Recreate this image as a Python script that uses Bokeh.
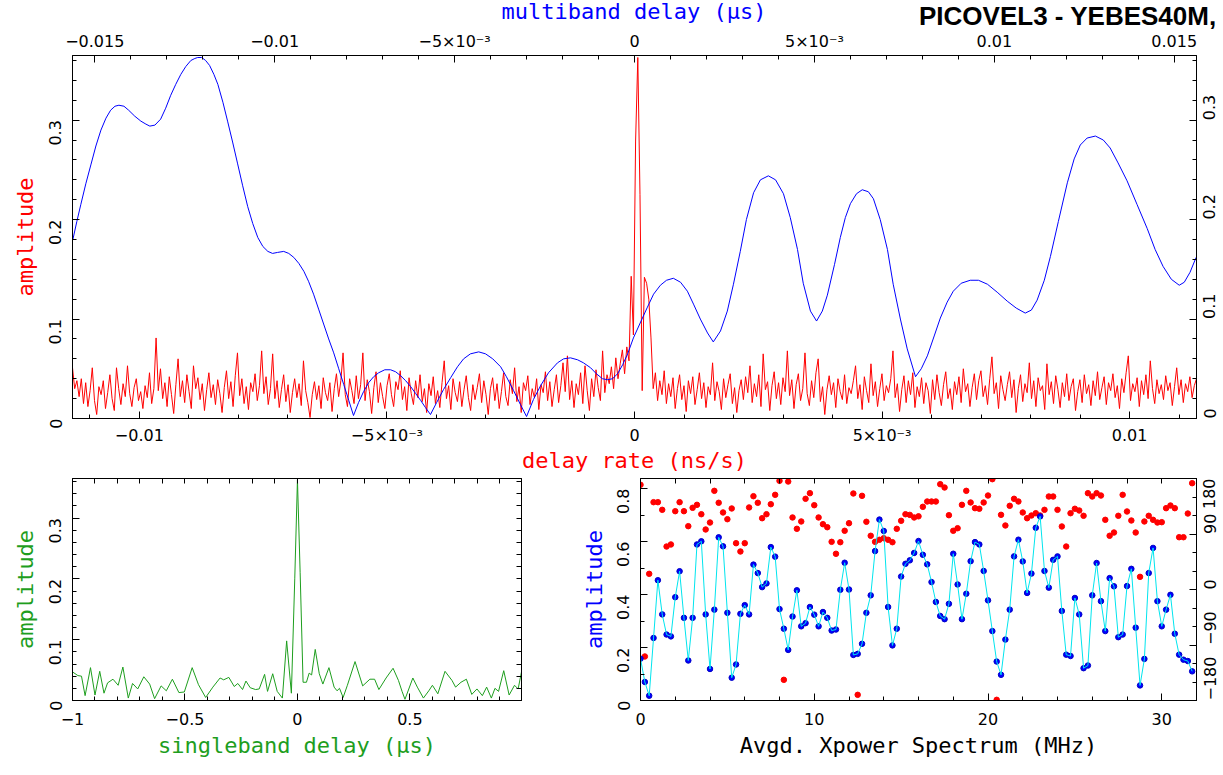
import math
import numpy as np
from bokeh.plotting import figure
from bokeh.layouts import column, row
from bokeh.models import (Range1d, LinearAxis, SingleIntervalTicker, FixedTicker,
                          CustomJSTickFormatter, Div)
from bokeh.embed import file_html
from bokeh.resources import INLINE

# ---------------- data ----------------
title_text = "PICOVEL3 - YEBES40M,"
mbd_title = "multiband delay (\u03bcs)"

# delay-rate spectrum (red), 512 samples over the bottom axis range (ns/s)
rate_min, rate_max = -0.01135, 0.01135
rate_amp = (
    [0.051, 0.030, 0.038, 0.022, 0.040, 0.015, 0.036, 0.012, 0.028, 0.051, 0.018, 0.004, 0.032, 0.024, 0.038, 0.010] +
    [0.026, 0.044, 0.020, 0.008, 0.051, 0.030, 0.014, 0.035, 0.022, 0.053, 0.025, 0.012, 0.031, 0.040, 0.018, 0.027] +
    [0.010, 0.033, 0.021, 0.046, 0.015, 0.030, 0.081, 0.028, 0.050, 0.020, 0.036, 0.012, 0.042, 0.024, 0.005, 0.034] +
    [0.060, 0.022, 0.038, 0.016, 0.044, 0.027, 0.010, 0.053, 0.030, 0.041, 0.019, 0.035, 0.008, 0.029, 0.046, 0.021] +
    [0.034, 0.014, 0.039, 0.025, 0.006, 0.031, 0.048, 0.020, 0.037, 0.012, 0.043, 0.066, 0.023, 0.040, 0.015, 0.032] +
    [0.009, 0.036, 0.027, 0.045, 0.018, 0.033, 0.068, 0.025, 0.042, 0.014, 0.030, 0.065, 0.020, 0.038, 0.011, 0.029] +
    [0.044, 0.017, 0.034, 0.006, 0.026, 0.040, 0.021, 0.035, 0.013, 0.058, 0.028, 0.016, 0.001, 0.024, 0.037, 0.019] +
    [0.033, 0.010, 0.041, 0.026, 0.018, 0.036, 0.007, 0.030, 0.045, 0.022, 0.038, 0.066, 0.024, 0.012, 0.040, 0.028] +
    [0.015, 0.043, 0.020, 0.034, 0.066, 0.018, 0.039, 0.027, 0.005, 0.031, 0.047, 0.016, 0.036, 0.022, 0.010, 0.033] +
    [0.045, 0.024, 0.012, 0.037, 0.029, 0.048, 0.019, 0.032, 0.008, 0.041, 0.025, 0.014, 0.038, 0.021, 0.044, 0.017] +
    [0.030, 0.006, 0.035, 0.023, 0.042, 0.015, 0.028, 0.011, 0.036, 0.058, 0.020, 0.033, 0.009, 0.040, 0.026, 0.017] +
    [0.037, 0.012, 0.029, 0.043, 0.021, 0.008, 0.034, 0.019, 0.031, 0.045, 0.016, 0.038, 0.024, 0.004, 0.030, 0.041] +
    [0.018, 0.035, 0.010, 0.027, 0.046, 0.022, 0.013, 0.039, 0.025, 0.051, 0.017, 0.032, 0.006, 0.036, 0.028, 0.043] +
    [0.014, 0.030, 0.021, 0.040, 0.009, 0.034, 0.026, 0.047, 0.018, 0.037, 0.012, 0.029, 0.044, 0.016, 0.033, 0.056] +
    [0.027, 0.063, 0.019, 0.038, 0.011, 0.035, 0.024, 0.046, 0.015, 0.053, 0.028, 0.008, 0.040, 0.022, 0.049, 0.031] +
    [0.018, 0.068, 0.026, 0.044, 0.035, 0.052, 0.030, 0.061, 0.040, 0.055, 0.069, 0.045, 0.072, 0.058, 0.143, 0.084] +
    [0.279, 0.363, 0.225, 0.028, 0.142, 0.136, 0.120, 0.081, 0.030, 0.046, 0.018, 0.038, 0.024, 0.048, 0.015, 0.035] +
    [0.022, 0.041, 0.010, 0.030, 0.044, 0.019, 0.033, 0.007, 0.038, 0.025, 0.042, 0.014, 0.029, 0.046, 0.020, 0.036] +
    [0.011, 0.032, 0.024, 0.056, 0.018, 0.037, 0.027, 0.009, 0.040, 0.021, 0.034, 0.045, 0.015, 0.031, 0.006, 0.028] +
    [0.039, 0.019, 0.042, 0.026, 0.053, 0.016, 0.035, 0.022, 0.044, 0.012, 0.065, 0.029, 0.037, 0.008, 0.033, 0.047] +
    [0.020, 0.036, 0.014, 0.041, 0.027, 0.068, 0.023, 0.039, 0.010, 0.034, 0.045, 0.018, 0.030, 0.066, 0.025, 0.013] +
    [0.038, 0.021, 0.046, 0.060, 0.017, 0.032, 0.004, 0.029, 0.043, 0.024, 0.036, 0.011, 0.040, 0.027, 0.019, 0.044] +
    [0.015, 0.031, 0.025, 0.038, 0.053, 0.020, 0.034, 0.009, 0.042, 0.028, 0.016, 0.055, 0.023, 0.037, 0.012, 0.030] +
    [0.045, 0.018, 0.033, 0.026, 0.040, 0.068, 0.021, 0.035, 0.007, 0.029, 0.043, 0.016, 0.038, 0.024, 0.046, 0.011] +
    [0.032, 0.022, 0.041, 0.015, 0.036, 0.028, 0.005, 0.039, 0.019, 0.044, 0.026, 0.013, 0.034, 0.047, 0.020, 0.030] +
    [0.009, 0.037, 0.024, 0.042, 0.016, 0.050, 0.027, 0.035, 0.012, 0.031, 0.045, 0.019, 0.038, 0.048, 0.022, 0.033] +
    [0.014, 0.040, 0.062, 0.025, 0.036, 0.010, 0.043, 0.029, 0.018, 0.034, 0.047, 0.021, 0.039, 0.006, 0.030, 0.044] +
    [0.017, 0.035, 0.026, 0.056, 0.020, 0.038, 0.012, 0.041, 0.028, 0.033, 0.009, 0.055, 0.024, 0.037, 0.015, 0.043] +
    [0.029, 0.011, 0.036, 0.022, 0.045, 0.018, 0.032, 0.040, 0.008, 0.027, 0.039, 0.016, 0.044, 0.025, 0.034, 0.013] +
    [0.038, 0.023, 0.047, 0.019, 0.031, 0.042, 0.014, 0.036, 0.028, 0.045, 0.021, 0.033, 0.010, 0.040, 0.026, 0.046] +
    [0.063, 0.018, 0.035, 0.027, 0.041, 0.012, 0.038, 0.024, 0.044, 0.020, 0.058, 0.030, 0.015, 0.039, 0.025, 0.034] +
    [0.019, 0.043, 0.028, 0.036, 0.013, 0.032, 0.051, 0.024, 0.039, 0.016, 0.035, 0.027, 0.042, 0.021, 0.033, 0.040]
)

# multiband delay function (blue); delay in ns (top axis shows microseconds)
mbd_ns = [
    -15.61, -15.50, -15.39, -15.25, -15.11, -14.97, -14.83, -14.69, -14.56, -14.44,
    -14.33, -14.19, -14.06, -13.89, -13.72, -13.58, -13.47, -13.33, -13.17, -13.03,
    -12.89, -12.75, -12.61, -12.47, -12.33, -12.22, -12.14, -12.03, -11.92, -11.81,
    -11.69, -11.58, -11.44, -11.31, -11.17, -11.03, -10.89, -10.75, -10.61, -10.47,
    -10.33, -10.19, -10.06, -9.92, -9.75, -9.61, -9.47, -9.33, -9.19, -9.06,
    -8.92, -8.78, -8.64, -8.50, -8.36, -8.22, -8.08, -7.94, -7.81, -7.67,
    -7.53, -7.39, -7.25, -7.11, -6.94, -6.78, -6.64, -6.50, -6.36, -6.22,
    -6.08, -5.94, -5.81, -5.67, -5.50, -5.31, -5.11, -4.92, -4.75, -4.56,
    -4.33, -4.14, -3.94, -3.72, -3.56, -3.36, -3.17, -3.00, -2.81, -2.61,
    -2.39, -2.14, -1.97, -1.78, -1.58, -1.42, -1.22, -1.06, -0.89, -0.75,
    -0.61, -0.47, -0.33, -0.19, -0.03, 0.17, 0.36, 0.53, 0.72, 0.89,
    1.08, 1.28, 1.47, 1.64, 1.83, 2.03, 2.19, 2.39, 2.58, 2.75,
    2.94, 3.11, 3.31, 3.50, 3.72, 3.92, 4.14, 4.33, 4.53, 4.69,
    4.89, 5.06, 5.22, 5.36, 5.56, 5.72, 5.86, 6.00, 6.17, 6.33,
    6.50, 6.64, 6.83, 7.03, 7.19, 7.39, 7.58, 7.81, 7.97, 8.14,
    8.33, 8.50, 8.69, 8.86, 9.08, 9.33, 9.56, 9.81, 10.08, 10.36,
    10.61, 10.86, 11.03, 11.19, 11.39, 11.56, 11.78, 12.03, 12.22, 12.39,
    12.58, 12.81, 13.03, 13.22, 13.44, 13.69, 13.97, 14.25, 14.47, 14.69,
    14.92, 15.14, 15.28, 15.44, 15.61]
mbd_amp = [
    0.180, 0.198, 0.215, 0.236, 0.255, 0.274, 0.290, 0.302, 0.310, 0.314,
    0.315, 0.314, 0.310, 0.304, 0.299, 0.296, 0.294, 0.295, 0.301, 0.312,
    0.325, 0.336, 0.346, 0.354, 0.360, 0.362, 0.363, 0.363, 0.360, 0.355,
    0.346, 0.336, 0.318, 0.299, 0.278, 0.256, 0.234, 0.213, 0.196, 0.182,
    0.173, 0.168, 0.166, 0.167, 0.168, 0.166, 0.162, 0.156, 0.148, 0.138,
    0.125, 0.110, 0.095, 0.080, 0.066, 0.050, 0.034, 0.018, 0.003, 0.016,
    0.027, 0.036, 0.042, 0.046, 0.049, 0.049, 0.047, 0.043, 0.038, 0.032,
    0.025, 0.018, 0.011, 0.004, 0.016, 0.029, 0.041, 0.052, 0.060, 0.065,
    0.067, 0.065, 0.060, 0.052, 0.042, 0.028, 0.014, 0.002, 0.019, 0.033,
    0.046, 0.056, 0.060, 0.061, 0.059, 0.056, 0.051, 0.045, 0.040, 0.039,
    0.040, 0.045, 0.054, 0.065, 0.081, 0.097, 0.112, 0.125, 0.134, 0.139,
    0.141, 0.137, 0.128, 0.115, 0.100, 0.086, 0.077, 0.088, 0.108, 0.135,
    0.168, 0.200, 0.227, 0.240, 0.244, 0.240, 0.226, 0.202, 0.170, 0.136,
    0.108, 0.098, 0.108, 0.124, 0.155, 0.182, 0.202, 0.216, 0.226, 0.230,
    0.228, 0.221, 0.200, 0.170, 0.135, 0.100, 0.070, 0.042, 0.050, 0.063,
    0.083, 0.101, 0.117, 0.128, 0.136, 0.139, 0.139, 0.135, 0.127, 0.118,
    0.111, 0.106, 0.109, 0.119, 0.139, 0.163, 0.198, 0.237, 0.261, 0.275,
    0.282, 0.284, 0.280, 0.272, 0.257, 0.239, 0.215, 0.191, 0.170, 0.153,
    0.140, 0.134, 0.137, 0.147, 0.162]

# singleband delay function (green)
sbd_us = [-1.0, -0.976, -0.96, -0.944, -0.92, -0.9, -0.879, -0.86, -0.844, -0.82,
          -0.797, -0.776, -0.752, -0.733, -0.71, -0.683, -0.657, -0.635, -0.606, -0.583,
          -0.556, -0.527, -0.503, -0.468, -0.44, -0.408, -0.376, -0.344, -0.328, -0.305,
          -0.281, -0.265, -0.244, -0.229, -0.21, -0.186, -0.170, -0.146, -0.133, -0.11,
          -0.09, -0.067, -0.048, -0.027, -0.012, 0.0, 0.012, 0.025, 0.04, 0.052,
          0.063, 0.079, 0.097, 0.113, 0.14, 0.163, 0.176, 0.187, 0.203, 0.222,
          0.256, 0.29, 0.322, 0.343, 0.362, 0.394, 0.425, 0.449, 0.465, 0.478,
          0.513, 0.533, 0.56, 0.584, 0.6, 0.624, 0.656, 0.687, 0.703, 0.727,
          0.751, 0.775, 0.798, 0.822, 0.841, 0.862, 0.878, 0.894, 0.917, 0.941,
          0.965, 0.981, 0.996]
sbd_amp = [0.047, 0.041, 0.040, 0.008, 0.054, 0.009, 0.048, 0.012, 0.029, 0.035,
           0.025, 0.055, 0.004, 0.028, 0.019, 0.039, 0.027, 0.003, 0.024, 0.016,
           0.035, 0.013, 0.014, 0.054, 0.026, 0.005, 0.022, 0.037, 0.034, 0.038,
           0.023, 0.028, 0.018, 0.032, 0.021, 0.018, 0.019, 0.043, 0.015, 0.044,
           0.015, 0.004, 0.098, 0.012, 0.200, 0.363, 0.210, 0.030, 0.030, 0.045,
           0.042, 0.084, 0.044, 0.027, 0.054, 0.022, 0.016, 0.020, 0.005, 0.025,
           0.064, 0.024, 0.035, 0.035, 0.018, 0.037, 0.053, 0.033, 0.015, 0.002,
           0.037, 0.022, 0.004, 0.016, 0.025, 0.011, 0.048, 0.033, 0.022, 0.030,
           0.035, 0.010, 0.019, 0.008, 0.022, 0.004, 0.020, 0.015, 0.049, 0.009,
           0.025, 0.019, 0.047]

# averaged cross-power spectrum, 0.25 MHz channels
freq_step_mhz = 0.25
xp_amp = [0.158, 0.070, 0.018, 0.236, 0.454, 0.325, 0.249, 0.242,
          0.390, 0.488, 0.312, 0.151, 0.312, 0.589, 0.601, 0.325,
          0.119, 0.343, 0.616, 0.582, 0.331, 0.086, 0.136, 0.327,
          0.360, 0.325, 0.513, 0.481, 0.428, 0.442, 0.579, 0.543,
          0.345, 0.271, 0.191, 0.317, 0.416, 0.280, 0.292, 0.353,
          0.324, 0.280, 0.334, 0.312, 0.264, 0.268, 0.418, 0.520,
          0.419, 0.172, 0.176, 0.214, 0.331, 0.397, 0.564, 0.683,
          0.640, 0.353, 0.208, 0.271, 0.468, 0.516, 0.529, 0.557,
          0.602, 0.550, 0.514, 0.447, 0.372, 0.319, 0.307, 0.365,
          0.554, 0.438, 0.307, 0.403, 0.526, 0.598, 0.589, 0.489,
          0.378, 0.262, 0.147, 0.097, 0.230, 0.343, 0.544, 0.607,
          0.525, 0.406, 0.479, 0.652, 0.695, 0.489, 0.426, 0.531,
          0.544, 0.338, 0.173, 0.168, 0.387, 0.325, 0.122, 0.132,
          0.397, 0.519, 0.375, 0.262, 0.462, 0.431, 0.239, 0.249,
          0.432, 0.497, 0.275, 0.057, 0.157, 0.481, 0.576, 0.375,
          0.280, 0.343, 0.399, 0.252, 0.173, 0.154, 0.149, 0.110]
xp_phase = [169.8, -108.6, 25.4, 141.6, 141.6, 129.2, 69.7, 73.0,
            127.0, 141.6, 127.0, 102.7, 132.5, 137.3, 122.1, 97.3,
            108.6, 160.0, 140.6, 124.9, 114.0, 131.4, 75.1, 61.6,
            75.1, 133.0, 151.3, 140.6, 115.6, 122.1, 138.3, 153.5,
            176.2, -146.5, 175.1, 116.8, 98.4, 110.3, 147.1, 156.2,
            136.7, 116.8, 105.9, 101.0, 77.3, 57.9, 76.7, 95.2,
            107.5, 155.7, -170.8, 151.9, 109.8, 87.1, 77.3, 80.6,
            83.2, 80.6, 76.7, 98.4, 111.4, 122.1, 121.0, 116.8,
            118.7, 134.1, 142.7, 142.7, 142.7, 170.8, 165.4, 120.5,
            95.2, 99.4, 137.3, 160.0, 141.1, 131.9, 130.9, 141.1,
            152.4, 178.9, -178.9, 121.1, 103.8, 135.7, 147.1, 142.7,
            124.9, 115.6, 120.0, 123.7, 120.0, 129.2, 150.8, 150.8,
            129.2, 102.2, 69.7, 123.7, 130.9, 128.1, 119.5, 156.2,
            150.8, 156.2, 152.4, 113.0, 87.1, 92.4, 119.5, 153.5,
            126.5, 111.9, 92.4, 20.5, 110.3, 119.5, 113.0, 108.6,
            109.2, 131.9, 136.2, 131.9, 84.8, 84.8, 123.2, 172.4]

# ---------------- derived ----------------
rate_x = np.linspace(rate_min, rate_max, len(rate_amp))
mbd_us = [v / 1000.0 for v in mbd_ns]
xp_freq = np.arange(len(xp_amp)) * freq_step_mhz

RED = "#FF0000"
BLUE = "#0000FF"
GREEN = "#1E9E1E"
CYAN = "#00E5EE"
TICK_FONT = "DejaVu Sans"
LABEL_FONT = "DejaVu Sans Mono"

FMT = r"""
const a = Math.abs(tick);
if (a < 1e-9) { return "0"; }
const s = tick < 0 ? "\u2212" : "";
if (a > 0.0025 && a < 0.0075) { return s + "5\u00d710\u207b\u00b3"; }
const r = Math.round(a * 1e6) / 1e6;
return s + String(r);
"""


def make_axis(range_kw, interval, nminor, title=None, title_color="black",
              orient="horizontal", lstand=8, astand=3):
    ax = LinearAxis(**range_kw)
    ax.ticker = SingleIntervalTicker(interval=interval, num_minor_ticks=nminor)
    ax.formatter = CustomJSTickFormatter(code=FMT)
    ax.axis_line_color = "black"
    ax.major_tick_in = 7
    ax.major_tick_out = 0
    ax.minor_tick_in = 4
    ax.minor_tick_out = 0
    ax.major_tick_line_color = "black"
    ax.minor_tick_line_color = "black"
    ax.major_label_text_font = TICK_FONT
    ax.major_label_text_color = "black"
    ax.major_label_text_font_size = "16px"
    ax.major_label_standoff = lstand
    ax.major_label_orientation = orient
    if title:
        ax.axis_label = title
        ax.axis_label_text_color = title_color
        ax.axis_label_text_font = LABEL_FONT
        ax.axis_label_text_font_size = "22px"
        ax.axis_label_text_font_style = "normal"
        ax.axis_label_standoff = astand
    return ax


def tick_only_axis(range_kw, start, stop, step):
    ax = LinearAxis(**range_kw)
    ax.ticker = FixedTicker(ticks=[], minor_ticks=list(np.arange(start, stop + step / 2, step)))
    ax.axis_line_color = "black"
    ax.major_tick_in = 0
    ax.major_tick_out = 0
    ax.minor_tick_in = 5
    ax.minor_tick_out = 0
    ax.minor_tick_line_color = "black"
    ax.major_label_standoff = 0
    return ax


def base_fig(fw, fh, xr, yr, bl, br, bt, bb):
    f = figure(frame_width=fw, frame_height=fh, x_range=xr, y_range=yr,
               output_backend="svg", toolbar_location=None,
               x_axis_location=None, y_axis_location=None,
               min_border_left=bl, min_border_right=br,
               min_border_top=bt, min_border_bottom=bb,
               background_fill_color="white", border_fill_color="white")
    f.grid.visible = False
    f.outline_line_color = "black"
    f.outline_line_width = 1
    return f


V = math.pi / 2

# ---------------- heading (top-axis title + plot title) ----------------
head_html = (
    '<div style="position:relative;width:1223px;height:24px;overflow:visible;">'
    '<div style="position:absolute;left:384px;top:0px;width:500px;text-align:center;'
    "font-family:'DejaVu Sans Mono';font-size:22px;line-height:24px;color:#0000FF;"
    'white-space:nowrap;">' + mbd_title + '</div>'
    '<div style="position:absolute;left:919px;top:3px;'
    "font-family:'Liberation Sans';font-weight:bold;font-size:26px;line-height:26px;"
    'color:#000000;white-space:nowrap;">' + title_text + '</div>'
    '</div>'
)
head = Div(text=head_html, width=1223, height=24, margin=(0, 0, 0, 0),
           styles={"overflow": "visible"})

# ---------------- main panel ----------------
p = base_fig(1124, 363, Range1d(rate_min, rate_max), Range1d(0, 0.365), 72, 27, 31, 60)
p.border_fill_color = None
p.extra_x_ranges = {"mbd": Range1d(-0.01562, 0.01562)}
p.add_layout(make_axis({}, 0.005, 5, title="delay rate (ns/s)", title_color=RED,
                       lstand=7, astand=0), "below")
p.add_layout(make_axis({"x_range_name": "mbd"}, 0.005, 5, lstand=5), "above")
p.add_layout(make_axis({}, 0.1, 5, title="amplitude", title_color=RED, orient=V,
                       lstand=17, astand=3), "left")
p.add_layout(make_axis({}, 0.1, 5, orient=V, lstand=13), "right")

p.line(rate_x, rate_amp, line_color=RED, line_width=1)
p.line(mbd_us, mbd_amp, line_color=BLUE, line_width=1, x_range_name="mbd")

# ---------------- singleband delay panel ----------------
bl = base_fig(449, 222, Range1d(-1.0, 0.996), Range1d(0, 0.365), 72, 10, 0, 67)
bl.add_layout(make_axis({}, 0.5, 5, title="singleband delay (\u03bcs)", title_color=GREEN,
                        lstand=12, astand=5), "below")
bl.add_layout(tick_only_axis({}, -1.0, 0.9, 0.1), "above")
bl.add_layout(make_axis({}, 0.1, 5, title="amplitude", title_color=GREEN, orient=V,
                        lstand=17, astand=3), "left")
bl.add_layout(tick_only_axis({}, 0.0, 0.36, 0.02), "right")
bl.line(sbd_us, sbd_amp, line_color=GREEN, line_width=1)

# ---------------- cross-power spectrum panel ----------------
br = base_fig(556, 222, Range1d(0, 32), Range1d(0, 0.838), 109, 27, 0, 67)
br.extra_y_ranges = {"phase": Range1d(-180, 180)}
br.add_layout(make_axis({}, 10, 5, title="Avgd. Xpower Spectrum (MHz)", title_color="black",
                        lstand=12, astand=5), "below")
br.add_layout(tick_only_axis({}, 0, 32, 2), "above")
br.add_layout(make_axis({}, 0.2, 2, title="amplitude", title_color=BLUE, orient=V,
                        lstand=17, astand=2), "left")
br.add_layout(make_axis({"y_range_name": "phase"}, 90, 3, orient=V, lstand=13), "right")

br.scatter(xp_freq, xp_phase, y_range_name="phase", size=5.5, fill_color=RED, line_color=RED)
br.scatter(xp_freq, xp_amp, size=5.5, fill_color=BLUE, line_color="#0000C8")
br.line(xp_freq, xp_amp, line_color=CYAN, line_width=1)

layout = column(head, p, row(bl, br))

with open("out.html", "w", encoding="utf-8") as fh:
    fh.write(file_html(layout, INLINE))
